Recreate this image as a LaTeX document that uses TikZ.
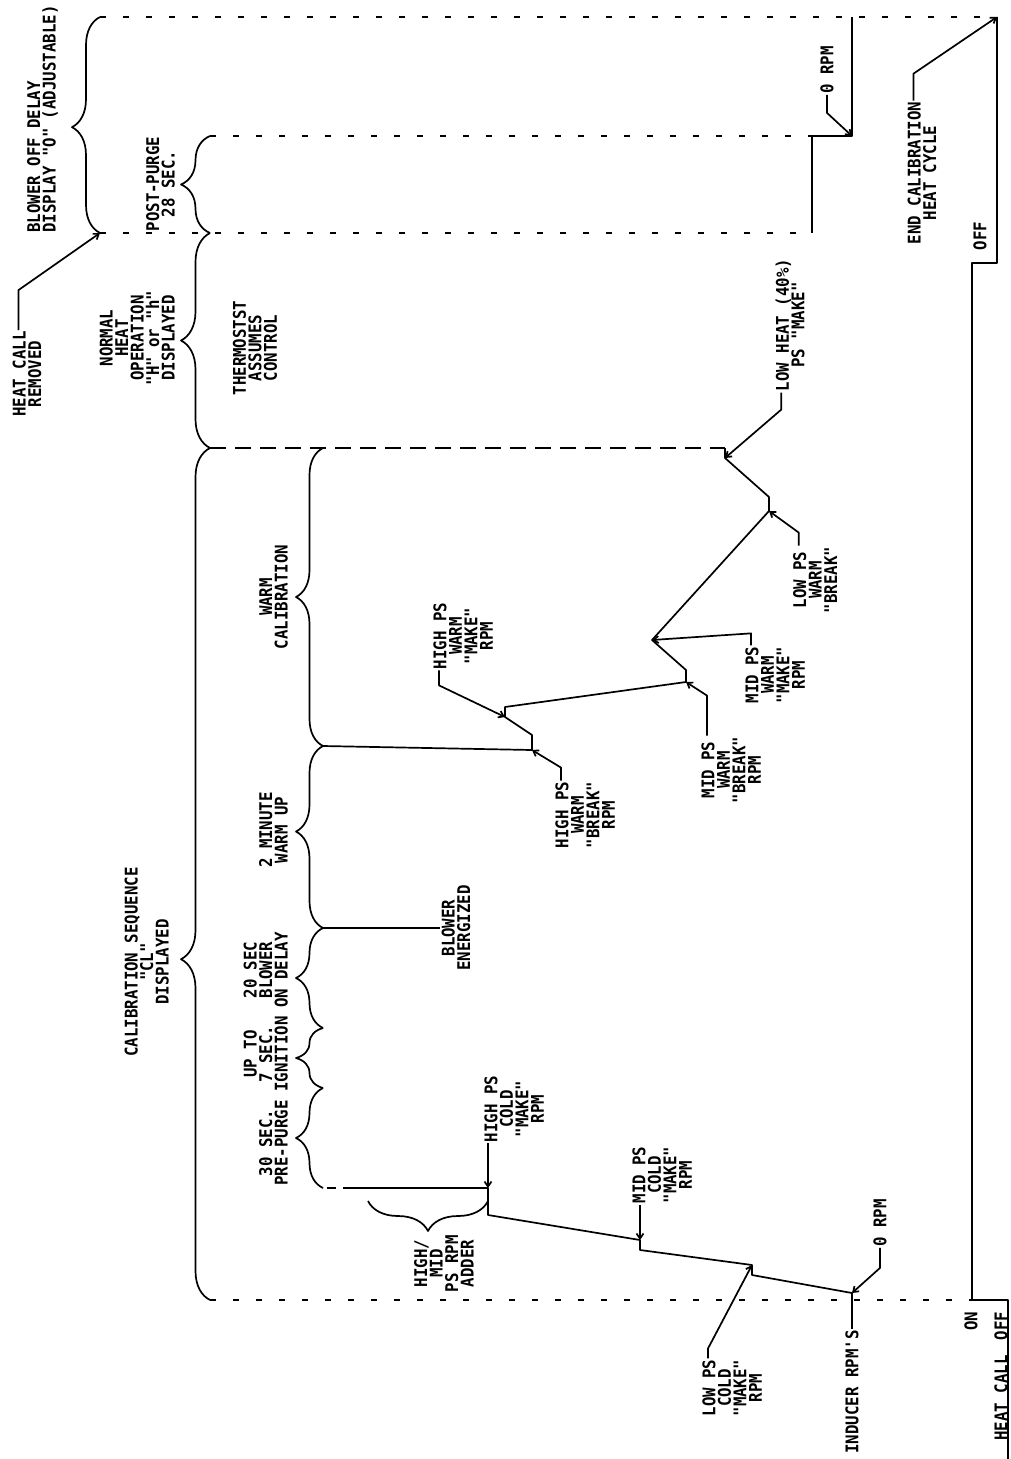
\documentclass[tikz,border=0pt]{standalone}
\usepackage{fontspec}
\newfontfamily\cadfont[FakeStretch=0.9]{DejaVu Sans Mono}
\usetikzlibrary{arrows.meta,decorations.pathreplacing}
\tikzset{
  tlbl/.style={rotate=90, align=center, inner sep=1pt, font=\cadfont\bfseries\fontsize{17.5}{15.5}\selectfont},
  tline/.style={line width=1.7pt, line join=round},
  tdash/.style={tline, dash pattern=on 6pt off 17pt},
  tldash/.style={tline, dash pattern=on 16pt off 9pt},
  tarr/.style={tline, -{Straight Barb[length=5pt,width=7pt]}},
  tbrc/.style={tline, decorate, decoration={brace, amplitude=#1}},
}
\begin{document}
\begin{tikzpicture}[x=1pt,y=-1pt]
  \useasboundingbox (0,0) rectangle (1010,1459);
  \fill[white] (0,0) rectangle (1010,1459);
  % time lines
  \coordinate (a0) at (100,17);   \coordinate (a1) at (997,17);  \coordinate (a2) at (852,17);
  \coordinate (b0) at (210,136);  \coordinate (b1) at (812,136); \coordinate (b2) at (852,136);
  \coordinate (c0) at (100,233);  \coordinate (c1) at (812,233); \coordinate (c2) at (210,233);
  \coordinate (d0) at (210,448);  \coordinate (d1) at (725,448);
  \coordinate (e0) at (210,1300); \coordinate (e1) at (972,1300);
  \draw[tdash] (a0) -- (a1);
  \draw[tdash] (b0) -- (b1);
  \draw[tdash] (c0) -- (c1);
  \draw[tldash] (d0) -- (d1);
  \draw[tdash] (e0) -- (e1);
  % heat call
  \coordinate (h0) at (1008,1459); \coordinate (h1) at (1008,1300);
  \coordinate (h2) at (972,263);   \coordinate (h3) at (997,263);
  \draw[tline] (h0) -- (h1) -- (e1) -- (h2) -- (h3) -- (a1);
  % braces
  \coordinate (s0) at (323,448);  \coordinate (s1) at (323,746);  \coordinate (s2) at (323,928);
  \coordinate (s3) at (323,1028); \coordinate (s4) at (323,1088); \coordinate (s5) at (323,1188);
  \draw[tbrc=28, decoration={aspect=0.49}] (c0) -- (a0);
  \draw[tbrc=29] (c2) -- (b0);
  \draw[tbrc=29] (d0) -- (c2);
  \draw[tbrc=29, decoration={aspect=0.4}] (e0) -- (d0);
  \draw[tbrc=27] (s1) -- (s0);
  \draw[tbrc=27, decoration={aspect=0.53}] (s2) -- (s1);
  \draw[tbrc=27] (s3) -- (s2);
  \draw[tbrc=27] (s4) -- (s3);
  \draw[tbrc=27] (s5) -- (s4);
  % inducer trace
  \draw[tline] (c1) -- (b1) -- (b2) -- (a2);
  \coordinate (w1) at (725,458);  \coordinate (w2) at (769,497);  \coordinate (w3) at (769,511);
  \coordinate (w4) at (652,640);  \coordinate (w5) at (686,670);  \coordinate (w6) at (686,682);
  \coordinate (w7) at (505,707);  \coordinate (w8) at (505,717);  \coordinate (w9) at (532,735);
  \coordinate (w10) at (532,750);
  \draw[tline] (s1) -- (w10) -- (w9) -- (w8) -- (w7) -- (w6) -- (w5) -- (w4) -- (w3) -- (w2) -- (w1) -- (d1);
  \coordinate (k0) at (852,1293); \coordinate (k1) at (752,1275); \coordinate (k2) at (752,1265);
  \coordinate (k3) at (640,1250); \coordinate (k4) at (640,1240); \coordinate (k5) at (488,1215);
  \coordinate (k6) at (488,1188); \coordinate (k7) at (343,1188);
  \coordinate (k8) at (327,1188); \coordinate (k9) at (336,1188);
  \draw[tline] (k0) -- (k1) -- (k2) -- (k3) -- (k4) -- (k5) -- (k6) -- (k7);
  \draw[tline] (k8) -- (k9);
  \coordinate (r0) at (488,1201); \coordinate (r1) at (368,1201);
  \draw[tbrc=30] (r0) -- (r1);
  % labels
  \node[tlbl] (hcr) at (27,374) {HEAT CALL\\REMOVED};
  \node[tlbl, align=left, anchor=north west] (bod) at (26,234) {BLOWER OFF DELAY\\DISPLAY "O" (ADJUSTABLE)};
  \node[tlbl, anchor=south] (pp) at (176,184) {POST-PURGE\\28 SEC.};
  \node[tlbl, anchor=south] (nho) at (176,338) {NORMAL\\HEAT\\OPERATION\\"H" or "h"\\DISPLAYED};
  \node[tlbl] (ts) at (255,348) {THERMOSTST\\ASSUMES\\CONTROL};
  \node[tlbl, anchor=south] (csd) at (170,962) {CALIBRATION SEQUENCE\\"CL"\\DISPLAYED};
  \node[tlbl, anchor=south] (wc) at (289,597) {WARM\\CALIBRATION};
  \node[tlbl, anchor=south] (mwu) at (289,830) {2 MINUTE\\WARM UP};
  \node[tlbl, anchor=south] (sbd) at (289,970) {20 SEC\\BLOWER\\ON DELAY};
  \node[tlbl, anchor=south] (ign) at (289,1054) {UP TO\\7 SEC.\\IGNITION};
  \node[tlbl, anchor=south] (ppg) at (289,1143) {30 SEC.\\PRE-PURGE};
  \node[tlbl] (be) at (456,928) {BLOWER\\ENERGIZED};
  \node[tlbl] (hpwm) at (463,636) {HIGH PS\\WARM\\"MAKE"\\RPM};
  \node[tlbl] (hpwb) at (585,815) {HIGH PS\\WARM\\"BREAK"\\RPM};
  \node[tlbl] (mpwb) at (731,770) {MID PS\\WARM\\"BREAK"\\RPM};
  \node[tlbl] (mpwm) at (775,675) {MID PS\\WARM\\"MAKE"\\RPM};
  \node[tlbl] (lpwb) at (815,580) {LOW PS\\WARM\\"BREAK"};
  \node[tlbl] (lhm) at (790,325) {LOW HEAT (40\%)\\PS "MAKE"};
  \node[tlbl] (zrt) at (827,70) {0 RPM};
  \node[tlbl] (ecal) at (922,173) {END CALIBRATION\\HEAT CYCLE};
  \node[tlbl] (hcoff) at (980,236) {OFF};
  \node[tlbl] (hpcm) at (514,1109) {HIGH PS\\COLD\\"MAKE"\\RPM};
  \node[tlbl] (mpcm) at (662,1175) {MID PS\\COLD\\"MAKE"\\RPM};
  \node[tlbl] (lpcm) at (732,1388) {LOW PS\\COLD\\"MAKE"\\RPM};
  \node[tlbl, anchor=east] (add) at (444,1234) {HIGH/\\MID\\PS RPM\\ADDER};
  \node[tlbl] (ind) at (852,1392) {INDUCER RPM'S};
  \node[tlbl] (zrb) at (880,1223) {0 RPM};
  \node[tlbl] (hcon) at (971,1321) {ON};
  \node[tlbl] (hcoffb) at (1001,1326) {OFF};
  \node[tlbl, anchor=east] (hcl) at (1001,1354) {HEAT CALL};
  % leaders
  \draw[tarr] ([xshift=7pt]hcr.north east) -- ++(0,-40) -- (c0);
  \draw[tarr] ([xshift=7pt]lhm.north west) -- ++(0,17) -- (w1);
  \draw[tarr] ([xshift=7pt]hpwm.north west) -- ++(0,15) -- (w8);
  \draw[tarr] ([xshift=7pt]hpwb.north east) -- ++(0,-13) -- (w10);
  \draw[tarr] ([xshift=7pt]mpwb.north east) -- ++(0,-40) -- (w6);
  \draw[tarr] ([xshift=7pt]mpwm.north east) -- ++(0,-12) -- (w4);
  \draw[tarr] ([xshift=7pt]lpwb.north east) -- ++(0,-13) -- (w3);
  \draw[tarr] ([xshift=7pt]ecal.north east) -- ++(0,-27) -- (a1);
  \draw[tarr] (zrt.west) -- ++(0,18) -- (b2);
  \draw[tarr] (k6 |- hpcm.west) -- (k6);
  \draw[tarr] (k4 |- mpcm.west) -- (k4);
  \draw[tarr] ([xshift=7pt]lpcm.north east) -- ++(0,-10) -- (k2);
  \draw[tarr] (zrb.west) -- ++(0,20) -- (k0);
  \draw[tline] (ind.east) -- (k0);
  \draw[tline] (s2) -- (be.north);
\end{tikzpicture}
\end{document}
